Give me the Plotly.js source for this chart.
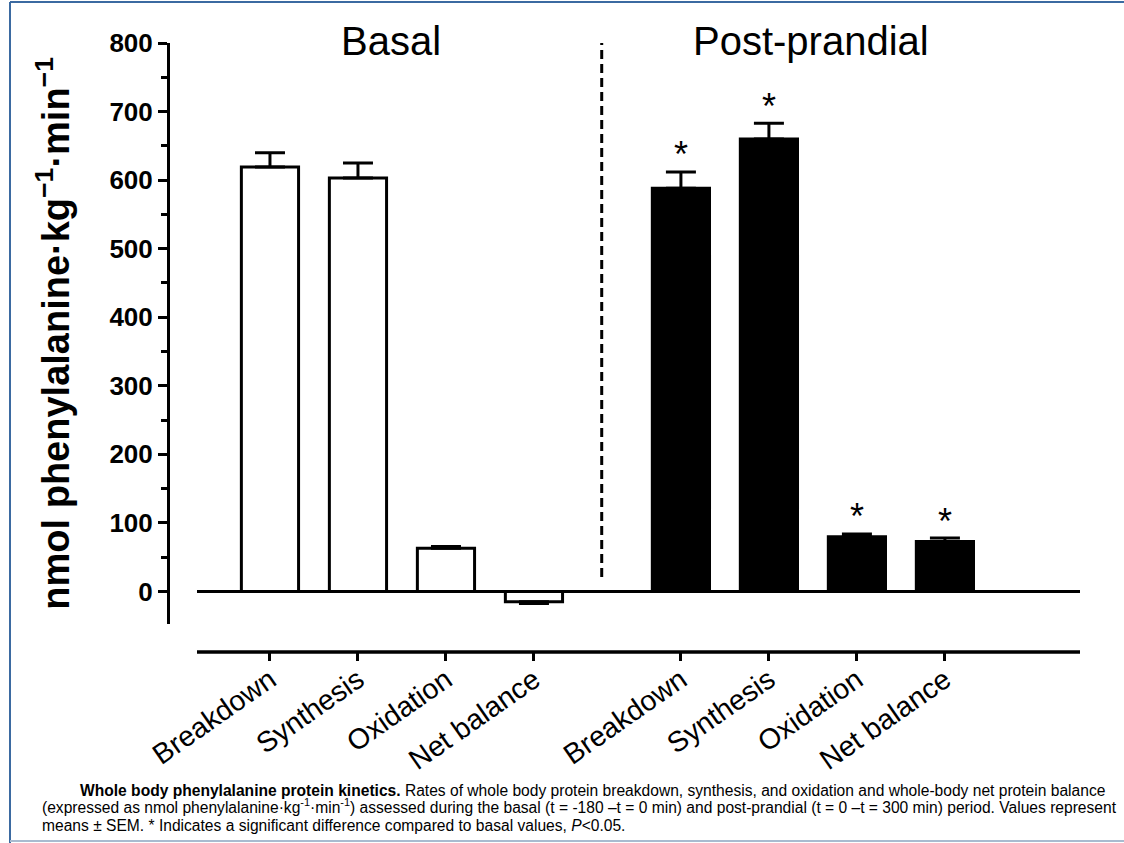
<!DOCTYPE html>
<html>
<head>
<meta charset="utf-8">
<script src="https://cdn.plot.ly/plotly-3.0.1.min.js"></script>
<style>html,body{margin:0;padding:0;background:#fff;}#chart{width:1124px;height:843px;}</style>
</head>
<body>
<div id="chart"></div>
<script>
// ---- data ----
const categories = ["Breakdown", "Synthesis", "Oxidation", "Net balance"];
const groups = ["Basal", "Post-prandial"];
const basalMean = [619, 603, 63, -15];
const basalSEM = [21, 22, 2.5, 2.5];
const postMean = [588, 660, 80, 73];
const postSEM = [24, 23, 4, 5];
const postSignificant = [true, true, true, true];
const yTitle = "nmol phenylalanine·kg<sup>−1</sup>·min<sup>−1</sup>";
const captionLines = [
  "<b>Whole body phenylalanine protein kinetics.</b> Rates of whole body protein breakdown, synthesis, and oxidation and whole-body net protein balance",
  "(expressed as nmol phenylalanine·kg<sup>-1</sup>·min<sup>-1</sup>) assessed during the basal (t = -180 –t = 0 min) and post-prandial (t = 0 –t = 300 min) period. Values represent",
  "means ± SEM. * Indicates a significant difference compared to basal values, <i>P</i>&lt;0.05."
];

// ---- layout helpers ----
const W = 1124, H = 843;
const M = {l: 170, r: 44, t: 43, b: 191};
const plotW = W - M.l - M.r, plotH = H - M.t - M.b;
const px2x = p => (p - M.l) / plotW;        // paper x from pixel
const py2y = p => (H - M.b - p) / plotH;    // paper y from pixel
const groupOffset = 4.67;
const xRange = [-1.136, 9.205];
const font = "Liberation Sans, Arial, sans-serif";

const basalX = categories.map((_, i) => i);
const postX = categories.map((_, i) => i + groupOffset);

function errPlus(m, s) { return m.map((v, i) => v >= 0 ? s[i] : 0); }
function errMinus(m, s) { return m.map((v, i) => v < 0 ? s[i] : 0); }

const barWidth = 0.65;
const traces = [
  {
    type: "bar", x: basalX, y: basalMean, width: barWidth,
    marker: {color: "#ffffff", line: {color: "#000000", width: 3}},
    error_y: {type: "data", symmetric: false, array: errPlus(basalMean, basalSEM),
              arrayminus: errMinus(basalMean, basalSEM), color: "#000", thickness: 3, width: 15},
    name: groups[0], showlegend: false, hoverinfo: "y"
  },
  {
    type: "bar", x: postX, y: postMean, width: barWidth,
    marker: {color: "#000000", line: {color: "#000000", width: 3}},
    error_y: {type: "data", symmetric: false, array: errPlus(postMean, postSEM),
              arrayminus: errMinus(postMean, postSEM), color: "#000", thickness: 3, width: 15},
    name: groups[1], showlegend: false, hoverinfo: "y"
  }
];

const annotations = [];
// group titles
annotations.push({xref: "x", yref: "paper", x: 1.375, y: py2y(41), text: groups[0], showarrow: false,
  xanchor: "center", yanchor: "middle", font: {family: font, size: 40, color: "#000"}});
annotations.push({xref: "x", yref: "paper", x: 1.5 + groupOffset - 0.02, y: py2y(41), text: groups[1], showarrow: false,
  xanchor: "center", yanchor: "middle", font: {family: font, size: 40, color: "#000"}});
// significance asterisks
postMean.forEach((v, i) => {
  if (postSignificant[i]) {
    annotations.push({xref: "x", yref: "y", x: postX[i], y: v + postSEM[i], text: "*", showarrow: false,
      xanchor: "center", yanchor: "middle", yshift: 17, font: {family: font, size: 36, color: "#000"}});
  }
});
// caption
const capY = [797, 814, 832];
captionLines.forEach((t, i) => {
  annotations.push({xref: "paper", yref: "paper", x: px2x(i === 0 ? 78 : 40), y: py2y(capY[i]),
    text: t, showarrow: false, xanchor: "left", yanchor: "bottom", yshift: -4, align: "left",
    font: {family: font, size: 15.6, color: "#000"}});
});

const shapes = [
  // zero line
  {type: "line", xref: "paper", yref: "y", x0: px2x(197), x1: 1, y0: 0, y1: 0, line: {color: "#000", width: 3}},
  // bottom axis line
  {type: "line", xref: "paper", yref: "paper", x0: px2x(197), x1: 1, y0: 0, y1: 0, line: {color: "#000", width: 3.5}},
  // dashed divider
  {type: "line", xref: "x", yref: "y", x0: 3.77, x1: 3.77, y0: 21, y1: 800, line: {color: "#000", width: 3, dash: "9px,5px"}},
  // frame
  {type: "line", xref: "paper", yref: "paper", x0: px2x(10), x1: px2x(10), y0: py2y(2), y1: py2y(843), line: {color: "#3b6aa1", width: 2}},
  {type: "line", xref: "paper", yref: "paper", x0: px2x(10), x1: px2x(1124), y0: py2y(2), y1: py2y(2), line: {color: "#3b6aa1", width: 2}},
  {type: "line", xref: "paper", yref: "paper", x0: px2x(10), x1: px2x(1124), y0: py2y(841), y1: py2y(841), line: {color: "#a9bbd0", width: 2}}
];

const layout = {
  width: W, height: H, margin: M,
  paper_bgcolor: "#fff", plot_bgcolor: "rgba(0,0,0,0)",
  showlegend: false, bargap: 0,
  font: {family: font, color: "#000"},
  xaxis: {
    range: xRange, anchor: "free", position: 0,
    showline: false, showgrid: false, zeroline: false,
    tickmode: "array", tickvals: basalX.concat(postX), ticktext: categories.concat(categories),
    ticks: "outside", ticklen: 8, tickwidth: 3, tickcolor: "#000",
    ticklabelstandoff: -9,
    tickangle: -35, tickfont: {family: font, size: 28.5, color: "#000"}
  },
  yaxis: {
    range: [-47, 800], domain: [py2y(623.7), 1],
    showline: true, linewidth: 3, linecolor: "#000",
    showgrid: false, zeroline: false,
    tickmode: "linear", tick0: 0, dtick: 100,
    ticks: "outside", ticklen: 9, tickwidth: 3, tickcolor: "#000",
    minor: {dtick: 50, tick0: 0, ticks: "outside", ticklen: 6, tickwidth: 3, tickcolor: "#000", showgrid: false},
    tickfont: {family: font, size: 26, weight: "bold", color: "#000"},
    title: {text: yTitle, standoff: 29, font: {family: font, size: 38, weight: "bold", color: "#000"}}
  },
  annotations: annotations,
  shapes: shapes
};

Plotly.newPlot("chart", traces, layout, {displayModeBar: false, staticPlot: true});
</script>
</body>
</html>
